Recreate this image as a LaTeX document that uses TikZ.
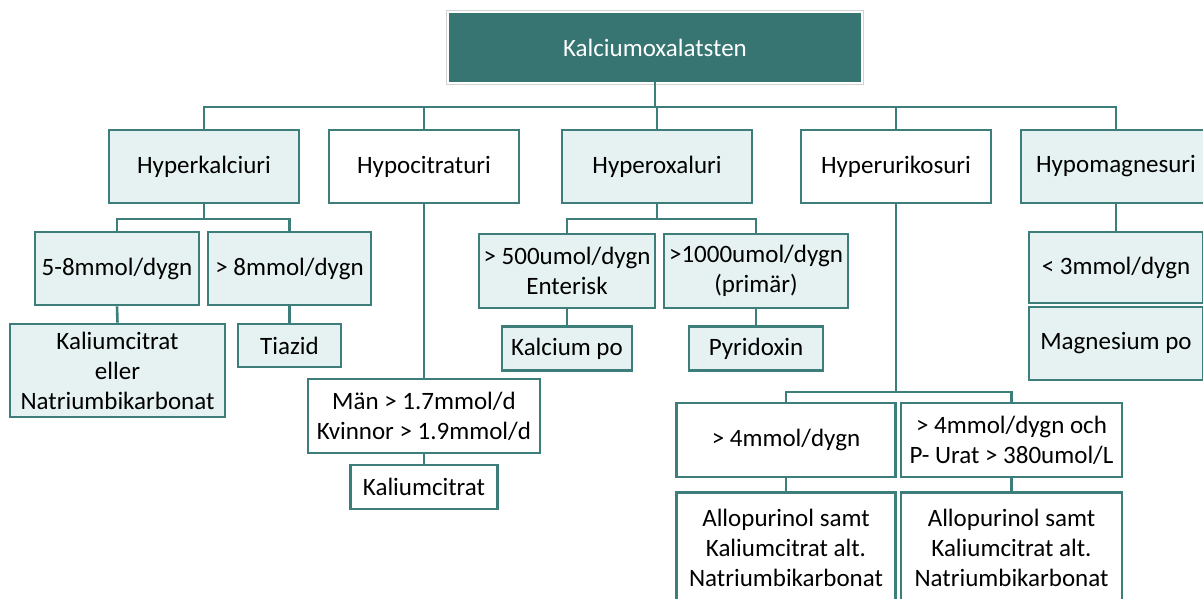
\documentclass[tikz,border=0pt]{standalone}
\usepackage{fontspec}
\setmainfont{Carlito}
\usepackage{tikz}
\usetikzlibrary{positioning}
\definecolor{stonedark}{HTML}{367571}
\definecolor{stoneline}{HTML}{3E7E7A}
\definecolor{stonelight}{HTML}{E6F2F1}
\definecolor{stoneframe}{HTML}{D2D2D2}

\tikzset{
  box/.style={draw=stoneline, line width=2.6pt, align=center, inner sep=0pt,
    font=\fontsize{25}{30}\selectfont},
  lightbox/.style={box, fill=stonelight},
  whitebox/.style={box, fill=white},
  rootbox/.style={fill=stonedark, text=white, inner sep=0pt,
    font=\fontsize{25}{30}\selectfont},
  link/.style={stoneline, line width=2.6pt},
}

\begin{document}
\begin{tikzpicture}[x=1pt, y=-1pt]
  \useasboundingbox (0,0) rectangle (1203,599);

  % Root
  \node[rootbox, minimum width=412, minimum height=69] (root) at (655,47.5) {Kalciumoxalatsten};
  \draw[stoneframe, line width=1pt]
    ([xshift=-2.5pt,yshift=2.5pt]root.north west) rectangle ([xshift=2.5pt,yshift=-2.5pt]root.south east);

  % First level
  \node[lightbox, minimum width=190, minimum height=73] (hyperkalc) at (204,166.5) {Hyperkalciuri};
  \node[whitebox, minimum width=190, minimum height=73] (hypocit) at (424,166.5) {Hypocitraturi};
  \node[lightbox, minimum width=190, minimum height=73] (hyperox) at (657,166.5) {Hyperoxaluri};
  \node[whitebox, minimum width=190, minimum height=73] (hyperur) at (896,166.5) {Hyperurikosuri};
  \node[lightbox, minimum width=190, minimum height=73] (hypomag) at (1116,166.5) {Hypomagnesuri};

  % Hyperkalciuri branch
  \node[lightbox, minimum width=164, minimum height=73] (kalc58) at (117,268.5) {5-8mmol/dygn};
  \node[lightbox, minimum width=163, minimum height=73] (kalc8) at (289.5,268.5) {> 8mmol/dygn};
  \node[lightbox, minimum width=215, minimum height=93] (kalccit) at (117.5,370.5) {Kaliumcitrat\\eller\\Natriumbikarbonat};
  \node[lightbox, minimum width=103, minimum height=43] (tiazid) at (289.5,345.5) {Tiazid};

  % Hypocitraturi branch
  \node[whitebox, minimum width=232, minimum height=74] (citgrans) at (424,416) {Män > 1.7mmol/d\\Kvinnor > 1.9mmol/d};
  \node[whitebox, minimum width=147, minimum height=44] (citbeh) at (424,487) {Kaliumcitrat};

  % Hyperoxaluri branch
  \node[lightbox, minimum width=176, minimum height=74] (ox500) at (567,271) {> 500umol/dygn\\Enterisk};
  \node[lightbox, minimum width=184, minimum height=74] (ox1000) at (756,271) {>1000umol/dygn\\(primär)};
  \node[lightbox, minimum width=130, minimum height=44] (oxkalc) at (567,348.5) {Kalcium po};
  \node[lightbox, minimum width=134, minimum height=44] (oxpyr) at (756,348.5) {Pyridoxin};

  % Hyperurikosuri branch
  \node[whitebox, minimum width=219, minimum height=74] (ur4) at (786,440) {> 4mmol/dygn};
  \node[whitebox, minimum width=221, minimum height=74] (urplasma) at (1011.5,440) {> 4mmol/dygn och\\P- Urat > 380umol/L};
  \node[whitebox, minimum width=219, minimum height=112, anchor=north] (urbeh1) at (786,491)
    {Allopurinol samt\\Kaliumcitrat alt.\\Natriumbikarbonat};
  \node[whitebox, minimum width=221, minimum height=112, anchor=north] (urbeh2) at (1011.5,491)
    {Allopurinol samt\\Kaliumcitrat alt.\\Natriumbikarbonat};

  % Hypomagnesuri branch
  \node[lightbox, minimum width=174, minimum height=71] (mg3) at (1116,267.5) {< 3mmol/dygn};
  \node[lightbox, minimum width=174, minimum height=73] (mgpo) at (1116,343.5) {Magnesium po};

  % Connectors
  \coordinate (rootbus) at (655,107);
  \coordinate (kalcbus) at (204,219);
  \coordinate (oxbus) at (657,219);
  \coordinate (urbus) at (896,392);
  \foreach \n in {hyperkalc,hypocit,hyperox,hyperur,hypomag}
    \draw[link] (root.south) -- (rootbus) -| (\n.north);
  \foreach \n in {kalc58,kalc8}
    \draw[link] (hyperkalc.south) -- (kalcbus) -| (\n.north);
  \foreach \n in {ox500,ox1000}
    \draw[link] (hyperox.south) -- (oxbus) -| (\n.north);
  \foreach \n in {ur4,urplasma}
    \draw[link] (hyperur.south) -- (urbus) -| (\n.north);
  \draw[link] (kalc58.south) -- (kalccit.north);
  \draw[link] (kalc8.south) -- (tiazid.north);
  \draw[link] (hypocit.south) -- (citgrans.north);
  \draw[link] (citgrans.south) -- (citbeh.north);
  \draw[link] (ox500.south) -- (oxkalc.north);
  \draw[link] (ox1000.south) -- (oxpyr.north);
  \draw[link] (ur4.south) -- (urbeh1.north);
  \draw[link] (urplasma.south) -- (urbeh2.north);
  \draw[link] (hypomag.south) -- (mg3.north);
\end{tikzpicture}
\end{document}
